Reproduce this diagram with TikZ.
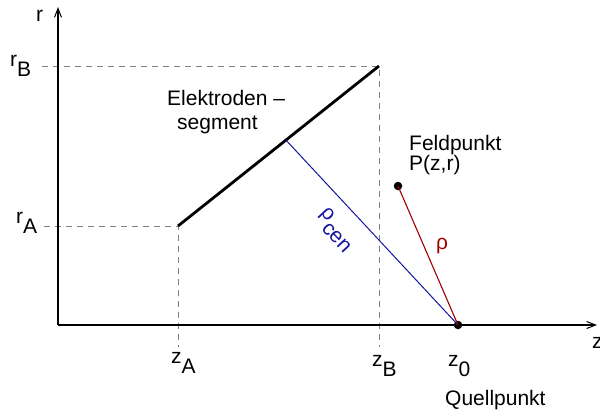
\documentclass[tikz,border=0pt]{standalone}
\usepackage{fontspec}
\setmainfont{Liberation Sans}
\usetikzlibrary{arrows.meta,calc}
\definecolor{cenblue}{RGB}{20,20,160}
\definecolor{rhored}{RGB}{160,0,0}
\newcommand\mysub[1]{\raisebox{-10pt}{#1}}
\begin{document}
\begin{tikzpicture}[x=1pt,y=-1pt,
  axis/.style={line width=1.2pt,-{Straight Barb[length=9pt,width=7pt,line width=1pt]}},
  helper/.style={gray,dash pattern=on 6pt off 5pt,line width=1pt},
  seg/.style={line width=2.8pt},
  lbl/.style={font=\fontsize{21}{24}\selectfont, inner sep=0pt},
  dot/.style={circle,fill,inner sep=0pt,minimum size=8.5pt}]
\useasboundingbox (0,0) rectangle (600,410);
% coordinates
\coordinate (O) at (58,325);
\coordinate (rtop) at (58,7);
\coordinate (zend) at (597,325);
\coordinate (A) at (178,226);
\coordinate (B) at (379,66);
\coordinate (Aleft) at (44,226);
\coordinate (Bleft) at (42,66);
\coordinate (Adown) at (178,347);
\coordinate (Bdown) at (379,347);
\coordinate (C) at ($(A)!0.537!(B)$);
% helper lines
\draw[helper] (Aleft) -- (A) -- (Adown);
\draw[helper] (Bleft) -- (B) -- (Bdown);
% axes
\draw[axis] (O) -- (rtop);
\draw[axis] (O) -- (zend);
% segment
\draw[seg] (A) -- (B);
% points
\node[dot] (z0) at (458,325) {};
\node[dot] (P) at (398,186) {};
\draw[cenblue,line width=1pt] (C) -- (z0.center);
\draw[rhored,line width=1.1pt] (P.center) -- (z0.center);
% labels
\node[lbl,anchor=base west] (rl) at (36,21) {r};
\node[lbl,anchor=base west] (zl) at (592,348) {z};
\node[lbl,anchor=base west] (rB) at (10,66) {r\mysub{B}};
\node[lbl,anchor=base west] (rA) at (16,223) {r\mysub{A}};
\node[lbl,anchor=base west] (zA) at (171,363) {z\mysub{A}};
\node[lbl,anchor=base west] (zB) at (372,366) {z\mysub{B}};
\node[lbl,anchor=base west] (z0l) at (448,366) {z\mysub{0}};
\node[lbl,anchor=base west] (ql) at (445,405) {Quellpunkt};
\node[lbl,anchor=base west] (el1) at (167,105) {Elektroden –};
\node[lbl,anchor=base west] (el2) at (177,129) {segment};
\node[lbl,anchor=base west] (fp1) at (409,150) {Feldpunkt};
\node[lbl,anchor=base west] (fp2) at (409,170) {P(z,r)};
\node[lbl,text=cenblue,rotate=-47] (rc) at (336,230) {ρ\mysub{cen}};
\node[lbl,text=rhored] (rho) at (442,246) {ρ};
\end{tikzpicture}
\end{document}
